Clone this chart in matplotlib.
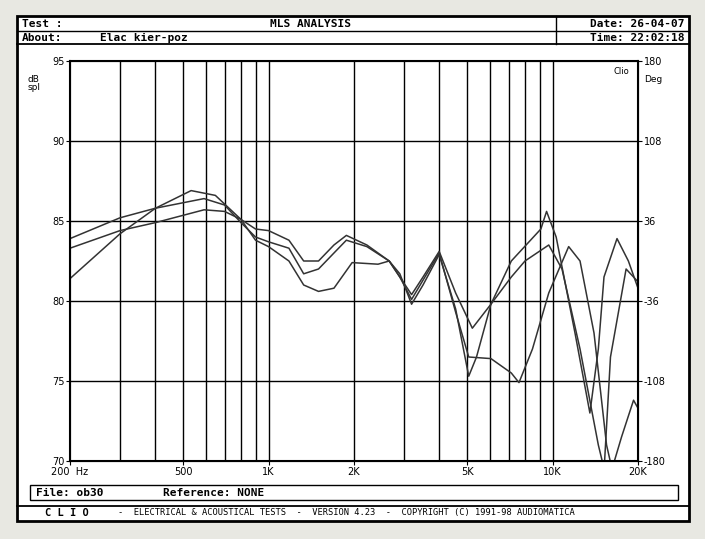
import matplotlib
matplotlib.use("Agg")
import matplotlib.pyplot as plt
from matplotlib.patches import Rectangle

# frequency (Hz) / level (dB spl)
freq_a = [200, 300, 400, 593, 700, 800, 900, 1000, 1180, 1330, 1500, 1700, 1880, 2220, 2660, 2900, 3190, 3500, 3990,
          4560, 5070, 5400, 6070, 7160, 9100, 9530, 10300, 12000, 13540, 14500, 15180, 16870, 18500, 20000]
spl_a = [83.9, 85.2, 85.8, 86.4, 86.0, 84.9, 84.0, 83.7, 83.3, 81.7, 82.0, 83.0, 83.8, 83.4, 82.5, 81.7, 79.8, 81.0, 82.9,
         79.5, 75.3, 76.5, 79.8, 82.5, 84.5, 85.6, 84.0, 78.0, 73.0, 77.0, 81.5, 83.9, 82.5, 80.8]

freq_b = [200, 300, 400, 593, 700, 800, 900, 1000, 1180, 1330, 1500, 1700, 1880, 2220, 2660, 2900, 3190, 3500, 3990,
          4560, 5220, 6070, 7160, 8000, 9700, 10800, 12500, 14500, 15200, 16000, 18160, 20000]
spl_b = [83.3, 84.4, 84.9, 85.7, 85.6, 85.1, 84.5, 84.4, 83.8, 82.5, 82.5, 83.5, 84.1, 83.5, 82.5, 81.5, 80.4, 81.5, 83.1,
         80.5, 78.3, 79.8, 81.5, 82.5, 83.5, 82.0, 77.0, 71.0, 69.5, 76.5, 82.0, 81.2]

freq_c = [200, 300, 400, 534, 650, 800, 900, 1000, 1180, 1330, 1500, 1700, 1970, 2430, 2660, 2900, 3190, 3500, 3990,
          4560, 5070, 6070, 7160, 7620, 8500, 9700, 11400, 12500, 14000, 15500, 16200, 17500, 19290, 20000]
spl_c = [81.4, 84.2, 85.8, 86.9, 86.6, 85.1, 83.8, 83.4, 82.5, 81.0, 80.6, 80.8, 82.4, 82.3, 82.5, 81.5, 80.1, 81.3, 83.0,
         79.3, 76.5, 76.4, 75.5, 74.9, 77.0, 80.5, 83.4, 82.5, 78.0, 71.0, 69.5, 71.5, 73.8, 73.3]

grid_freqs = [300, 400, 500, 600, 700, 800, 900, 1000, 2000, 3000, 4000, 5000, 6000, 7000, 8000, 9000, 10000]
x_ticks = [200, 500, 1000, 2000, 5000, 10000, 20000]
x_labels = ["200  Hz", "500", "1K", "2K", "5K", "10K", "20K"]
db_ticks = [70, 75, 80, 85, 90, 95]
deg_labels = ["-180", "-108", "-36", "36", "108", "180"]

W, H = 705, 539
fig = plt.figure(figsize=(W / 100, H / 100), dpi=100)
fig.patch.set_facecolor("#e8e8e2")

# frame in pixel coordinates
bg = fig.add_axes([0, 0, 1, 1], zorder=0)
bg.set_xlim(0, W)
bg.set_ylim(H, 0)
bg.axis("off")
bg.add_patch(Rectangle((17, 16), 672, 505, fc="white", ec="black", lw=2))
bg.plot([17, 689], [31, 31], color="black", lw=1)
bg.plot([17, 689], [44, 44], color="black", lw=1.3)
bg.plot([556, 556], [16, 44], color="black", lw=1)
bg.add_patch(Rectangle((30, 485), 648, 15, fc="white", ec="black", lw=1))
bg.plot([17, 689], [506, 506], color="black", lw=1.3)

mono = dict(family="DejaVu Sans Mono", fontweight="bold", color="black")
bg.text(22, 24, "Test :", fontsize=8, va="center", **mono)
bg.text(310, 24, "MLS ANALYSIS", fontsize=8, va="center", ha="center", **mono)
bg.text(22, 38, "About:", fontsize=8, va="center", **mono)
bg.text(100, 38, "Elac kier-poz", fontsize=8, va="center", **mono)
bg.text(684, 24, "Date: 26-04-07", fontsize=8, va="center", ha="right", **mono)
bg.text(684, 38, "Time: 22:02:18", fontsize=8, va="center", ha="right", **mono)
bg.text(36, 493, "File: ob30", fontsize=8, va="center", **mono)
bg.text(163, 493, "Reference: NONE", fontsize=8, va="center", **mono)
bg.text(45, 513, "C L I O", fontsize=7.5, va="center", **mono)
bg.text(118, 513, "-  ELECTRICAL & ACOUSTICAL TESTS  -  VERSION 4.23  -  COPYRIGHT (C) 1991-98 AUDIOMATICA",
        fontsize=6.3, va="center", family="DejaVu Sans Mono", color="black")

ax = fig.add_axes([70 / W, 1 - 461 / H, 568 / W, 400 / H], zorder=1)
ax.set_facecolor("white")
ax.set_xscale("log")
ax.set_xlim(200, 20000)
ax.set_ylim(70, 95)
for f in grid_freqs:
    ax.axvline(f, color="black", lw=1)
for d in db_ticks[1:-1]:
    ax.axhline(d, color="black", lw=1)

for fr, sp in [(freq_a, spl_a), (freq_b, spl_b), (freq_c, spl_c)]:
    ax.plot(fr, sp, color="#333333", lw=1.1, clip_on=True)

ax.set_xticks(x_ticks)
ax.set_xticklabels(x_labels, fontsize=7)
ax.minorticks_off()
ax.set_yticks(db_ticks)
ax.set_yticklabels([str(d) for d in db_ticks], fontsize=7)
ax.tick_params(axis="both", direction="out", length=3, pad=1)
for s in ax.spines.values():
    s.set_linewidth(1.5)

ax2 = ax.twinx()
ax2.set_ylim(70, 95)
ax2.set_yticks(db_ticks)
ax2.set_yticklabels(deg_labels, fontsize=7)
ax2.tick_params(direction="out", length=3, pad=1)

ax.text(-0.075, 0.965, "dB\nspl", transform=ax.transAxes, fontsize=6.5, va="top", linespacing=0.9)
ax.text(1.01, 0.965, "Deg", transform=ax.transAxes, fontsize=6.5, va="top")
ax.text(0.985, 0.985, "Clio", transform=ax.transAxes, fontsize=6, va="top", ha="right",
        bbox=dict(fc="white", ec="none", pad=0.5))

fig.savefig("out.png", dpi=100, facecolor=fig.get_facecolor())
